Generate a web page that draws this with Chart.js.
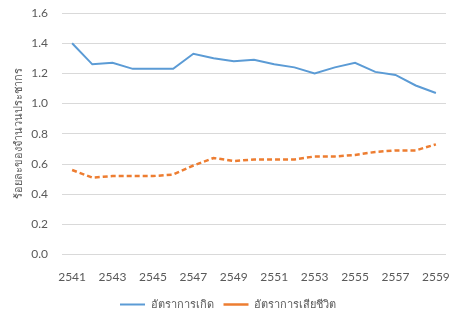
<!DOCTYPE html>
<html>
<head>
<meta charset="utf-8">
<script src="https://cdn.jsdelivr.net/npm/chart.js@4"></script>
<style>
  html, body { margin: 0; padding: 0; background: #fff; }
  #wrap { width: 471px; height: 330px; }
</style>
</head>
<body>
<div id="wrap"><canvas id="myChart" width="471" height="330"></canvas></div>
<script>
// ปี พ.ศ.
const years = ['2541', '2542', '2543', '2544', '2545', '2546', '2547', '2548', '2549', '2550',
               '2551', '2552', '2553', '2554', '2555', '2556', '2557', '2558', '2559'];
// อัตราการเกิด (ร้อยละ)
const birthRate = [1.40, 1.26, 1.27, 1.23, 1.23, 1.23, 1.33, 1.30, 1.28, 1.29,
                   1.26, 1.24, 1.20, 1.24, 1.27, 1.21, 1.19, 1.12, 1.07];
// อัตราการเสียชีวิต (ร้อยละ)
const deathRate = [0.56, 0.51, 0.52, 0.52, 0.52, 0.53, 0.59, 0.64, 0.62, 0.63,
                   0.63, 0.63, 0.65, 0.65, 0.66, 0.68, 0.69, 0.69, 0.73];
const yTicks = [0, 0.2, 0.4, 0.6, 0.8, 1.0, 1.2, 1.4, 1.6];

const textColor = '#595959';
const fontFamily = "Lato, 'Noto Sans', 'DejaVu Sans', sans-serif";

const data = {
    labels: years,
    datasets: [
        {
            label: 'อัตราการเกิด',
            data: birthRate,
            borderColor: '#5B9BD5',
            backgroundColor: '#5B9BD5',
            borderWidth: 2,
            pointRadius: 0,
            tension: 0
        },
        {
            label: 'อัตราการเสียชีวิต',
            data: deathRate,
            borderColor: '#ED7D31',
            backgroundColor: '#ED7D31',
            borderWidth: 2.5,
            borderDash: [5, 3],
            pointRadius: 0,
            tension: 0
        }
    ]
};

const config = {
    type: 'line',
    data: data,
    options: {
        responsive: false,
        animation: false,
        layout: { padding: { left: 10, right: 25, top: 0, bottom: 10 } },
        plugins: {
            legend: {
                position: 'bottom',
                labels: {
                    usePointStyle: true,
                    pointStyle: 'line',
                    pointStyleWidth: 25,
                    boxWidth: 25,
                    padding: 10,
                    color: textColor,
                    font: { family: fontFamily, size: 11 }
                }
            },
            tooltip: { enabled: false }
        },
        scales: {
            x: {
                offset: true,
                afterFit: function (axis) { axis.height -= 2; },
                grid: { display: false },
                border: { display: false },
                ticks: {
                    autoSkip: false,
                    maxRotation: 0,
                    padding: 7,
                    color: textColor,
                    font: { family: fontFamily, size: 12 },
                    callback: function (v, i) { return i % 2 === 0 ? years[i] : ''; }
                }
            },
            y: {
                min: 0,
                max: 1.6,
                afterBuildTicks: function (axis) {
                    axis.ticks = yTicks.map(function (v) { return { value: v }; });
                },
                // ความกว้างแกน y คงที่ ให้เส้นกริดเริ่มที่ x = 62 และพื้นที่กราฟเริ่มที่ y = 13
                afterFit: function (axis) {
                    axis.width = 52;
                    axis.paddingTop = 13;
                    axis.paddingBottom = 0;
                },
                grid: { color: '#D9D9D9', drawTicks: false, lineWidth: 1 },
                border: { display: false },
                ticks: {
                    padding: 14,
                    color: textColor,
                    font: { family: fontFamily, size: 12 },
                    callback: function (v) { return v.toFixed(1); }
                },
                title: {
                    display: true,
                    text: 'ร้อยละของจำนวนประชากร',
                    color: textColor,
                    font: { family: fontFamily, size: 11 },
                    padding: { top: 2, bottom: 0 }
                }
            }
        }
    }
};

const chart = new Chart('myChart', config);
</script>
</body>
</html>
